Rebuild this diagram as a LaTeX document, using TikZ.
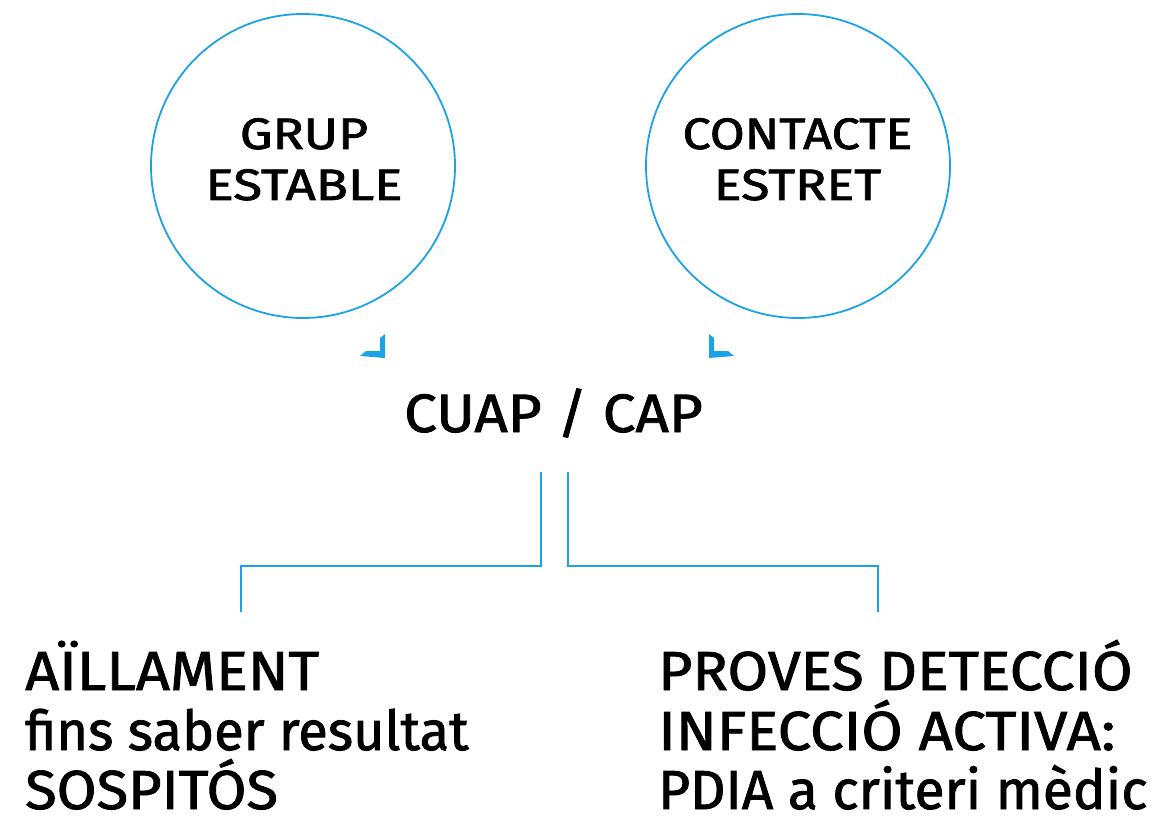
\documentclass[tikz,border=0pt]{standalone}
\usepackage{fontspec}
\setmainfont{Fira Sans}[FakeBold=1.5]
\usepackage{graphicx}
\definecolor{cblue}{RGB}{27,163,230}
\newcommand{\wx}[2]{\scalebox{#1}[1]{#2}}
\begin{document}
\begin{tikzpicture}[x=1pt,y=-1pt,
  ring/.style={circle,draw=cblue,line width=1.8pt,minimum size=304pt,inner sep=0pt},
  ctext/.style={inner sep=0pt,anchor=base,font=\fontsize{44}{52}\selectfont},
  btext/.style={inner sep=0pt,anchor=base west,font=\fontsize{55}{60}\selectfont},
  link/.style={draw=cblue,line width=2pt},
  chev/.style={fill=cblue,draw=none}]
\useasboundingbox (0,0) rectangle (1156,818);
% circles
\node[ring] (c1) at (303,166) {};
\node[ring] (c2) at (798,166) {};
\node[ctext] (c1a) at (304,149) {\wx{1.18}{GRUP}};
\node[ctext] (c1b) at (304,200) {\wx{1.20}{ESTABLE}};
\node[ctext] (c2a) at (797.5,149) {\wx{1.15}{CONTACTE}};
\node[ctext] (c2b) at (797.5,200) {\wx{1.18}{ESTRET}};
% chevrons
\fill[chev] (385,334) -- (385,358) -- (360,356) -- (366,351) -- (380,351) -- (380,338) -- cycle;
\fill[chev] (709,334) -- (709,358) -- (734,356) -- (728,351) -- (714,351) -- (714,338) -- cycle;
% centre
\node[inner sep=0pt,anchor=base,font=\fontsize{54}{60}\selectfont] (cap) at (553.5,432) {\wx{1.08}{CUAP / CAP}};
\coordinate (t1) at (541,472);
\coordinate (t2) at (568,472);
\coordinate (e1) at (241,612);
\coordinate (e2) at (878,612);
\draw[link] (t1) |- (241,566) -- (e1);
\draw[link] (t2) |- (878,566) -- (e2);
% bottom texts
\node[btext] (l1) at (25,690) {\wx{1.08}{AÏLLAMENT}};
\node[btext] (l2) at (25,750) {\wx{0.985}{fins saber resultat}};
\node[btext] (l3) at (25,809) {\wx{1.05}{SOSPITÓS}};
\node[btext] (r1) at (658,690) {\wx{1.07}{PROVES DETECCIÓ}};
\node[btext] (r2) at (658,750) {\wx{1.09}{INFECCIÓ ACTIVA:}};
\node[btext] (r3) at (658,809) {\wx{1.0}{PDIA a criteri mèdic}};
\end{tikzpicture}
\end{document}
